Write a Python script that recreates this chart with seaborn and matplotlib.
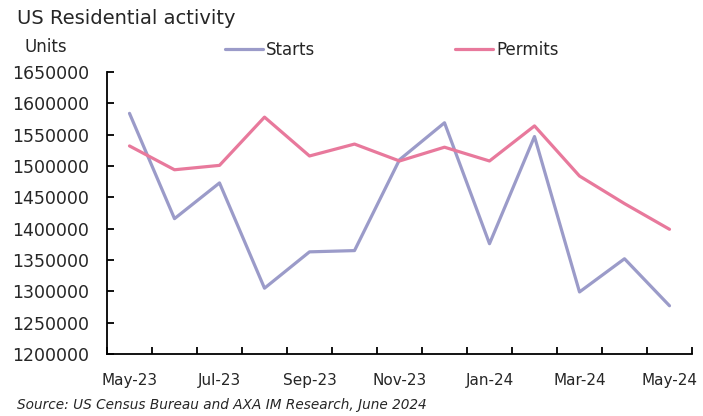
import numpy as np
import pandas as pd
import matplotlib
matplotlib.use("Agg")
import matplotlib.pyplot as plt
import seaborn as sns
from matplotlib.ticker import FixedLocator

# data
months = ["May-23", "Jun-23", "Jul-23", "Aug-23", "Sep-23", "Oct-23", "Nov-23",
          "Dec-23", "Jan-24", "Feb-24", "Mar-24", "Apr-24", "May-24"]
starts = [1584000, 1416000, 1473000, 1305000, 1363000, 1365000, 1510000,
          1569000, 1376000, 1547000, 1299000, 1352000, 1277000]
permits = [1532000, 1494000, 1501000, 1578000, 1516000, 1535000, 1508000,
           1530000, 1508000, 1564000, 1484000, 1440000, 1399000]

START_COL = "#9b9bc9"
PERMIT_COL = "#e8799c"
TXT = "#262626"

sns.set_style("white")
plt.rcParams["font.family"] = ["DejaVu Sans"]

df = pd.DataFrame({"pos": np.arange(len(months)), "Starts": starts, "Permits": permits})

fig = plt.figure(figsize=(7.03, 4.16), dpi=100)
ax = fig.add_axes([107 / 703, 62 / 416, 585 / 703, 282 / 416])

sns.lineplot(data=df, x="pos", y="Starts", color=START_COL, linewidth=2.3, ax=ax, label="Starts")
sns.lineplot(data=df, x="pos", y="Permits", color=PERMIT_COL, linewidth=2.3, ax=ax, label="Permits")

ax.set_xlim(-0.5, len(months) - 0.5)
ax.set_ylim(1200000, 1650000)
ax.set_yticks(np.arange(1200000, 1650001, 50000))
ax.set_yticklabels([str(v) for v in range(1200000, 1650001, 50000)], fontsize=12.5, color=TXT)

ax.set_xticks(df["pos"][::2])
ax.set_xticklabels(months[::2], fontsize=11, color=TXT)
ax.xaxis.set_minor_locator(FixedLocator(np.arange(-0.5, len(months), 1.0)))
ax.tick_params(axis="x", which="major", bottom=True, length=0, pad=14)
ax.tick_params(axis="x", which="minor", bottom=True, length=5, direction="in", width=1.3, color="black")
ax.tick_params(axis="y", left=True, length=5, direction="in", width=1.3, color="black", pad=13)

ax.set_xlabel("")
ax.set_ylabel("")
for s in ["top", "right"]:
    ax.spines[s].set_visible(False)
for s in ["left", "bottom"]:
    ax.spines[s].set_color("black")
    ax.spines[s].set_linewidth(1.3)

leg = ax.legend(loc="center left", bbox_to_anchor=(118 / 585, 1 + 22 / 282), ncol=2, frameon=False,
                fontsize=12, handlelength=2.3, handletextpad=0.15, columnspacing=8.4, borderpad=0,
                borderaxespad=0)
for t in leg.get_texts():
    t.set_color(TXT)

fig.text(17 / 703, 1 - 18 / 416, "US Residential activity", fontsize=14, va="center", ha="left", color=TXT)
fig.text(25 / 703, 1 - 47 / 416, "Units", fontsize=12, va="center", ha="left", color=TXT)
fig.text(17 / 703, 1 - 405 / 416, "Source: US Census Bureau and AXA IM Research, June 2024",
         fontsize=9.8, style="italic", va="center", ha="left", color=TXT)

fig.savefig("out.png", dpi=100)
